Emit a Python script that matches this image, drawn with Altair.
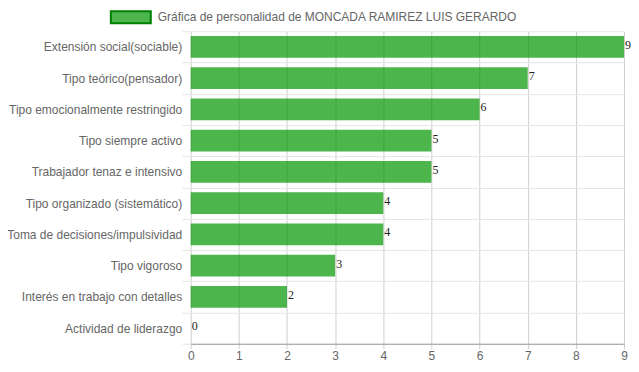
import altair as alt
import pandas as pd

categorias = [
    "Extensión social(sociable)",
    "Tipo teórico(pensador)",
    "Tipo emocionalmente restringido",
    "Tipo siempre activo",
    "Trabajador tenaz e intensivo",
    "Tipo organizado (sistemático)",
    "Toma de decisiones/impulsividad",
    "Tipo vigoroso",
    "Interés en trabajo con detalles",
    "Actividad de liderazgo",
]
valores = [9, 7, 6, 5, 5, 4, 4, 3, 2, 0]
serie = "Gráfica de personalidad de MONCADA RAMIREZ LUIS GERARDO"
ticks_x = list(range(0, 10))

df = pd.DataFrame({"cat": categorias, "val": valores, "serie": [serie] * len(valores)})

FONT = "Liberation Sans"
GREEN = "rgba(0,150,0,0.7)"

y_enc = alt.Y(
    "cat:N",
    sort=categorias,
    title=None,
    scale=alt.Scale(paddingInner=0, paddingOuter=0),
    axis=alt.Axis(
        grid=True,
        gridColor="#e6e6e6",
        tickBand="extent",
        tickColor="#e6e6e6",
        tickSize=9,
        labelPadding=0,
        domain=False,
        labelFont=FONT,
        labelFontSize=12,
        labelColor="#666666",
        labelLimit=300,
    ),
)

x_enc = alt.X(
    "val:Q",
    title=None,
    scale=alt.Scale(domain=[0, 9], nice=False),
    axis=alt.Axis(
        values=ticks_x,
        grid=True,
        gridColor="#cfcfcf",
        tickColor="#cfcfcf",
        tickSize=5,
        domainColor="#9a9a9a",
        labelFont=FONT,
        labelFontSize=12,
        labelColor="#666666",
        labelPadding=2,
        labelFlush=False,
    ),
)

bars = alt.Chart(df).mark_bar(height={"band": 0.7}).encode(
    x=x_enc,
    y=y_enc,
    color=alt.Color(
        "serie:N",
        scale=alt.Scale(domain=[serie], range=[GREEN]),
        legend=alt.Legend(
            title=None,
            orient="none",
            legendX=-81,
            legendY=-35,
            symbolType="M-1,-0.3H1V0.3H-1Z",
            symbolSize=1600,
            symbolStrokeColor="#008000",
            symbolStrokeWidth=2,
            symbolOpacity=1,
            labelFont=FONT,
            labelFontSize=12,
            labelColor="#666666",
            labelOffset=6,
            labelLimit=500,
            padding=0,
        ),
    ),
)

labels = alt.Chart(df).mark_text(
    align="left", baseline="middle", dx=1, dy=-2,
    font="Liberation Serif", fontSize=12, color="#222222",
).encode(
    x=alt.X("val:Q"),
    y=alt.Y("cat:N", sort=categorias),
    text=alt.Text("val:Q"),
)

chart = (
    alt.layer(bars, labels)
    .properties(
        width=434,
        height=313,
        autosize=alt.AutoSizeParams(type="none"),
        padding={"left": 183, "top": 23, "right": 7, "bottom": 20},
    )
    .configure_view(stroke=None)
)

chart.save("out.html", embed_options={"renderer": "svg", "actions": False})
